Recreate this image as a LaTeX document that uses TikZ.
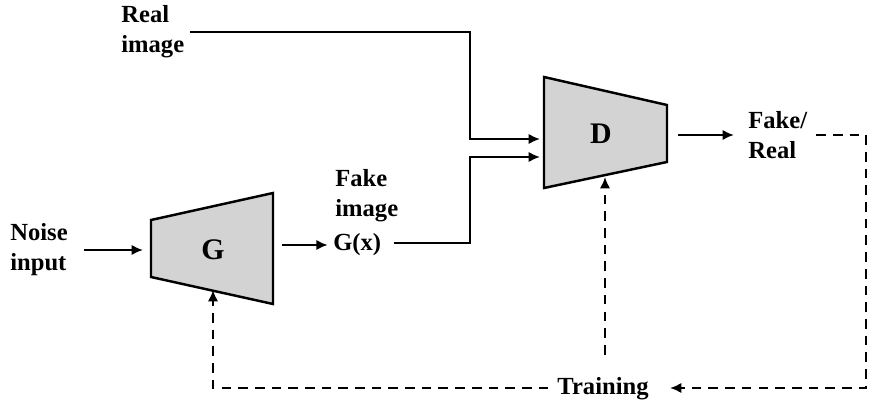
\documentclass[tikz,border=0pt]{standalone}
\usepackage{fontspec}
\setmainfont{Liberation Serif}
\usepackage{tikz}
\usetikzlibrary{arrows.meta}

\definecolor{blockgray}{RGB}{211,211,211}

\begin{document}
\begin{tikzpicture}[x=0.02cm,y=-0.02cm]
	\tikzstyle{lbl}=[font=\bfseries\fontsize{14}{17}\selectfont,align=left,inner sep=0pt]
	\tikzstyle{blocklbl}=[lbl,font=\bfseries\fontsize{17}{20}\selectfont]
	\tikzstyle{wire}=[line width=1.6pt,-{Latex[length=6.5pt,width=6pt]}]
	\tikzstyle{fb}=[wire,dash pattern=on 5.5pt off 4pt]
	\tikzstyle{block}=[draw=black,line width=1.4pt,fill=blockgray,line join=miter]
	\useasboundingbox (0,0) rectangle (872,405);
	% generator
	\coordinate (g1) at (151,220);
	\coordinate (g2) at (273,193);
	\coordinate (g3) at (273,304);
	\coordinate (g4) at (151,277);
	\draw[block] (g1) -- (g2) -- (g3) -- (g4) -- cycle;
	\node[blocklbl] (G) at (213,250) {G};
	% discriminator
	\coordinate (d1) at (544,77);
	\coordinate (d2) at (667,105);
	\coordinate (d3) at (667,162);
	\coordinate (d4) at (544,188);
	\draw[block] (d1) -- (d2) -- (d3) -- (d4) -- cycle;
	\node[blocklbl] (D) at (601,134) {D};
	% labels
	\node[lbl,anchor=west] (noise) at (10,250) {Noise\\input};
	\node[lbl,anchor=west] (real) at (121,32) {Real\\image};
	\node[lbl,anchor=west] (fake) at (335,196) {Fake\\image};
	\node[lbl,anchor=west] (gx) at (333,245) {G(x)};
	\node[lbl,anchor=west] (out) at (748,135) {Fake/\\Real};
	\node[lbl] (train) at (603,389) {Training};
	% points on the wires
	\coordinate (gin) at (143,250);
	\coordinate (gout) at (282,245);
	\coordinate (gbot) at (213,290);
	\coordinate (din1) at (540,139);
	\coordinate (din2) at (540,157);
	\coordinate (dout) at (678,135);
	\coordinate (dbot) at (605,177);
	\coordinate (r1) at (470,32);
	\coordinate (f1) at (470,243);
	\coordinate (t1) at (866,135);
	\coordinate (t2) at (866,388);
	\coordinate (t3) at (213,388);
	% forward path
	\draw[wire] ([xshift=9pt]noise.east) -- (gin);
	\draw[wire] (gout) -- ([xshift=-3pt]gx.west);
	\draw[wire] ([xshift=3pt]real.east |- r1) -- (r1) -- (r1 |- din1) -- (din1);
	\draw[wire] ([xshift=7pt]gx.east |- f1) -- (f1) -- (f1 |- din2) -- (din2);
	\draw[wire] (dout) -- ([xshift=-8pt]out.west);
	% training feedback
	\draw[fb] ([xshift=5pt]out.east |- t1) -- (t1) -- (t2) -- ([xshift=12pt]train.east |- t2);
	\draw[fb] ([xshift=-5pt]train.west |- t3) -- (t3) -- (gbot);
	\draw[fb] ([yshift=13pt]train.north -| dbot) -- (dbot);
\end{tikzpicture}
\end{document}
